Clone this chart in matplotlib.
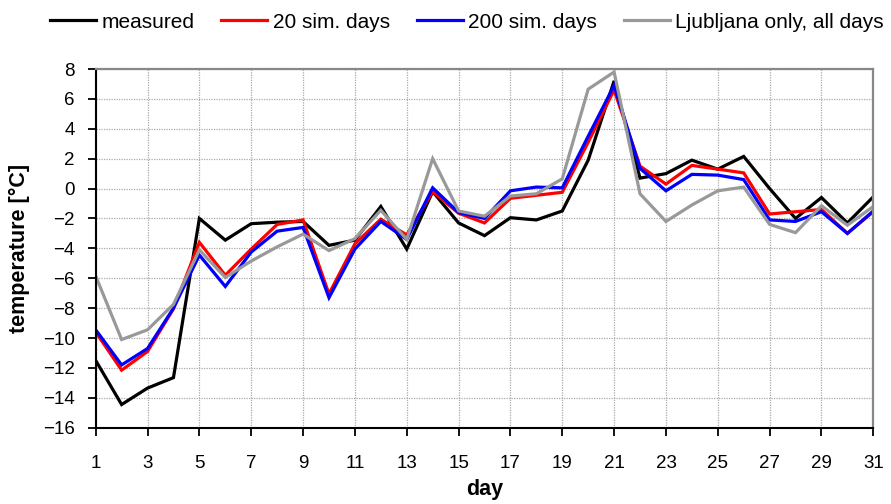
import matplotlib
matplotlib.use("Agg")
import matplotlib.pyplot as plt

plt.rcParams['font.family'] = ['Liberation Sans', 'DejaVu Sans']

days = list(range(1, 32))
measured = [-11.5, -14.45, -13.35, -12.65, -2.0, -3.45, -2.35, -2.25, -2.2, -3.8,
            -3.45, -1.2, -4.05, -0.2, -2.3, -3.15, -1.95, -2.1, -1.5, 1.9,
            7.2, 0.7, 1.0, 1.9, 1.3, 2.15, 0.0, -2.0, -0.6, -2.3, -0.55]
sim20 = [-9.6, -12.15, -10.9, -8.05, -3.6, -5.8, -4.05, -2.4, -2.1, -7.05,
         -3.7, -2.05, -3.1, -0.2, -1.65, -2.3, -0.65, -0.45, -0.25, 3.1,
         6.6, 1.5, 0.3, 1.55, 1.3, 1.05, -1.7, -1.55, -1.4, -3.0, -1.55]
sim200 = [-9.45, -11.8, -10.7, -8.0, -4.45, -6.55, -4.25, -2.85, -2.6, -7.3,
          -4.05, -2.2, -3.4, 0.05, -1.6, -2.0, -0.15, 0.1, 0.05, 3.5,
          6.9, 1.35, -0.15, 0.95, 0.9, 0.6, -2.1, -2.2, -1.55, -3.0, -1.5]
ljubljana = [-5.85, -10.1, -9.45, -7.75, -4.1, -5.95, -4.85, -3.9, -3.05, -4.15,
             -3.35, -1.45, -3.4, 2.0, -1.5, -1.85, -0.5, -0.35, 0.65, 6.65,
             7.8, -0.35, -2.2, -1.1, -0.15, 0.1, -2.4, -2.95, -1.15, -2.45, -1.2]

series = [
    (measured, "measured", "#000000"),
    (sim20, "20 sim. days", "#ff0000"),
    (sim200, "200 sim. days", "#0000ff"),
    (ljubljana, "Ljubljana only, all days", "#999999"),
]

x_ticks = list(range(1, 32, 2))
y_ticks = list(range(-16, 9, 2))

fig = plt.figure(figsize=(8.91, 5.04), dpi=100)
ax = fig.add_axes([95.7 / 891, 1 - 427.7 / 504, (873.3 - 95.7) / 891, (427.7 - 69) / 504])

for vals, label, color in series:
    ax.plot(days, vals, color=color, lw=2.3, label=label, solid_joinstyle='miter')

ax.set_xlim(1, 31)
ax.set_ylim(-16, 8)
ax.set_xticks(x_ticks)
ax.set_yticks(y_ticks)

ax.grid(True, color='#ababab', linestyle=(0, (1, 1)), lw=0.9)
ax.set_axisbelow(True)

for side in ('left', 'bottom'):
    ax.spines[side].set_color('black')
    ax.spines[side].set_linewidth(1.5)
for side in ('top', 'right'):
    ax.spines[side].set_color('#888888')
    ax.spines[side].set_linewidth(1.6)

ax.tick_params(axis='both', direction='out', length=6, width=1.3, color='black',
               labelsize=13.5)
ax.tick_params(axis='x', pad=14)
ax.tick_params(axis='y', pad=9)

ax.set_xlabel("day", fontsize=15.5, fontweight='bold', labelpad=5)
ax.set_ylabel("temperature [°C]", fontsize=15.5, fontweight='bold', labelpad=9)

fig.legend(loc='upper center', bbox_to_anchor=(0.524, 1.0), ncol=4, frameon=False,
           fontsize=15, handlelength=2.2, handletextpad=0.25, columnspacing=1.3,
           borderaxespad=0.2)

fig.savefig("out.png", dpi=100)
